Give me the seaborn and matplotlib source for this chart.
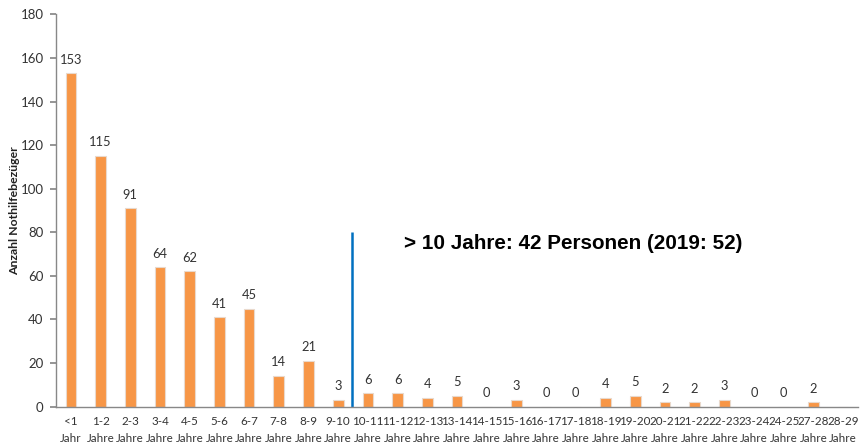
import matplotlib
matplotlib.use("Agg")
import matplotlib.pyplot as plt
import seaborn as sns
import pandas as pd

categories = ["<1\nJahr", "1-2\nJahre", "2-3\nJahre", "3-4\nJahre", "4-5\nJahre", "5-6\nJahre",
              "6-7\nJahre", "7-8\nJahre", "8-9\nJahre", "9-10\nJahre", "10-11\nJahre", "11-12\nJahre",
              "12-13\nJahre", "13-14\nJahre", "14-15\nJahre", "15-16\nJahre", "16-17\nJahre",
              "17-18\nJahre", "18-19\nJahre", "19-20\nJahre", "20-21\nJahre", "21-22\nJahre",
              "22-23\nJahre", "23-24\nJahre", "24-25\nJahre", "27-28\nJahre", "28-29\nJahre"]
values = [153, 115, 91, 64, 62, 41, 45, 14, 21, 3, 6, 6, 4, 5, 0, 3, 0, 0, 4, 5, 2, 2, 3, 0, 0, 2, None]
y_ticks = [0, 20, 40, 60, 80, 100, 120, 140, 160, 180]
annotation = "> 10 Jahre: 42 Personen (2019: 52)"
y_label = "Anzahl Nothilfebezüger"

sns.set_theme(style="white")
plt.rcParams['font.family'] = ['Lato', 'DejaVu Sans']

df = pd.DataFrame({"cat": categories, "val": [v if v is not None else 0 for v in values]})

W, H = 862, 447
fig = plt.figure(figsize=(W / 100, H / 100), dpi=100)
ax_left, ax_right = 56, 858
ax_top, ax_bot = 14.5, 406.5
ax = fig.add_axes([ax_left / W, (H - ax_bot) / H, (ax_right - ax_left) / W, (ax_bot - ax_top) / H])

sns.barplot(data=df, x="cat", y="val", color="#F79646", saturation=1, width=0.36, ax=ax,
            edgecolor="#E9D9CC", linewidth=0.8)

for i, v in enumerate(values):
    if v is None:
        continue
    ax.text(i, v + 3.5, str(v), ha="center", va="bottom", fontsize=9.3, color="#333333")

ax.set_xlim(-0.5, 26.5)
ax.set_ylim(0, 180)
ax.set_yticks(y_ticks)
ax.tick_params(axis="y", labelsize=9.5, labelcolor="#333333", length=4, color="#888888",
               left=True, pad=5)
ax.tick_params(axis="x", labelsize=8.4, labelcolor="#333333", length=0, pad=7)
for lab in ax.get_xticklabels():
    lab.set_linespacing(1.6)
ax.set_xlabel("")
ax.set_ylabel(y_label, fontsize=8.8, fontweight="bold", color="#222222")
ax.yaxis.set_label_coords(-0.045, 0.5)

for s in ["top", "right"]:
    ax.spines[s].set_visible(False)
for s in ["left", "bottom"]:
    ax.spines[s].set_color("#888888")
    ax.spines[s].set_linewidth(1)

ax.vlines(9.45, 0, 80, color="#0070C0", linewidth=1.8)
ax.text(11.2, 75, annotation, fontsize=14.9, fontweight="bold", family=["Liberation Sans"],
        ha="left", va="center", color="black")

fig.savefig("out.png", dpi=100)
